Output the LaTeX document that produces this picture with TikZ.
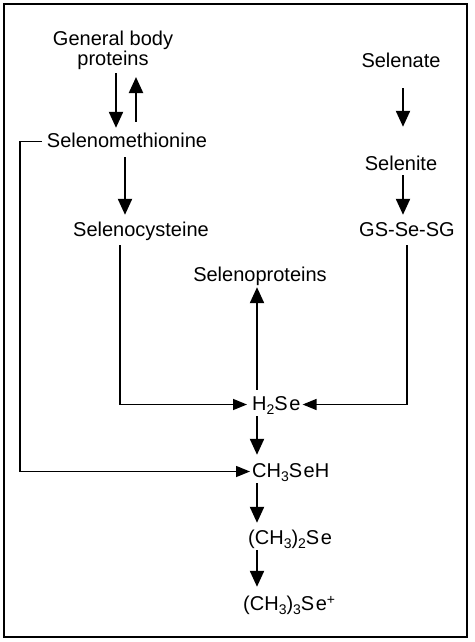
\documentclass[tikz,border=0pt]{standalone}
\usepackage{fontspec}
\setmainfont{Liberation Sans}
\usetikzlibrary{arrows.meta}
\newcommand{\subs}[1]{\raisebox{-4pt}{\fontsize{14}{14}\selectfont #1}}
\newcommand{\sups}[1]{\raisebox{6pt}{\fontsize{14}{14}\selectfont #1}}
\begin{document}
\begin{tikzpicture}[font=\fontsize{20}{20}\selectfont, x=1pt, y=-1pt,
          >={Triangle[length=16pt,width=14pt]},
          lbl/.style={inner sep=0pt},
          sgl/.style={lbl, text height=15pt, text depth=4pt},
          arr/.style={->, line width=2.2pt},
          link/.style={->, line width=1.5pt, >={Triangle[length=14pt,width=11pt]}}]
        \useasboundingbox (0,0) rectangle (474,642);
        \draw[line width=2.4pt] (4,4) rectangle (467,637);
        % left column
        \node[lbl, align=center, anchor=north] (gbp) at (113,31) {General body\\proteins};
        \node[sgl, anchor=base] (semet) at (127,147) {Selenomethionine};
        \node[sgl, anchor=base] (secys) at (141,236) {Selenocysteine};
        % right column
        \node[sgl, anchor=base] (selenate) at (401,67) {Selenate};
        \node[sgl, anchor=base] (selenite) at (401,170) {Selenite};
        \node[sgl, anchor=base] (gssg) at (407,236) {GS-Se-SG};
        % middle
        \node[sgl, anchor=base] (seprot) at (260,281) {Selenoproteins};
        \node[sgl, anchor=base west] (h2se) at (252,410) {H\subs{2}S\kern1.5pt e};
        \node[sgl, anchor=base west] (ch3seh) at (252,477) {CH\subs{3}S\kern1.5pt eH};
        \node[sgl, anchor=base west] (dmse) at (248,544) {(CH\subs{3})\subs{2}S\kern1.5pt e};
        \node[sgl, anchor=base west] (tmse) at (243,610) {(CH\subs{3})\subs{3}S\kern1.5pt e\sups{+}};
        \coordinate (lft) at (20,140);
        % arrows
        \draw[arr, shorten <=3pt, shorten >=4pt] ([xshift=3pt]gbp.south) -- ([xshift=3pt]gbp.south |- semet.north);
        \draw[arr, shorten <=10pt, shorten >=7pt] ([xshift=23pt]gbp.south |- semet.north) -- ([xshift=23pt]gbp.south);
        \draw[arr, shorten <=6pt, shorten >=6pt] ([xshift=-2pt]semet.south) -- ([xshift=-2pt]semet.south |- secys.north);
        \draw[arr, shorten <=17pt, shorten >=28pt] ([xshift=2pt]selenate.south) -- ([xshift=2pt]selenate.south |- selenite.north);
        \draw[arr, shorten <=1pt, shorten >=6pt] ([xshift=2pt]selenite.south) -- ([xshift=2pt]selenite.south |- gssg.north);
        \draw[link, shorten <=5pt, shorten >=5pt] ([xshift=-21pt]secys.south) |- (h2se.west);
        \draw[link, shorten <=5pt, shorten >=2pt] (gssg.south) |- (h2se.east);
        \draw[arr, shorten <=5pt, shorten >=2pt] ([xshift=5pt]h2se.north west) -- ([xshift=5pt]h2se.north west |- seprot.south);
        \draw[arr, shorten <=2pt, shorten >=7pt] ([xshift=5pt]h2se.south west) -- ([xshift=5pt]ch3seh.north west);
        \draw[link, shorten <=5pt, shorten >=2pt] (semet.west) -- (semet.west -| lft) |- (ch3seh.west);
        \draw[arr, shorten <=2pt, shorten >=6pt] ([xshift=5pt]ch3seh.south west) -- ([xshift=5pt]ch3seh.south west |- dmse.north);
        \draw[arr, shorten <=2pt, shorten >=8pt] ([xshift=9pt]dmse.south west) -- ([xshift=9pt]dmse.south west |- tmse.north);
      \end{tikzpicture}
\end{document}
